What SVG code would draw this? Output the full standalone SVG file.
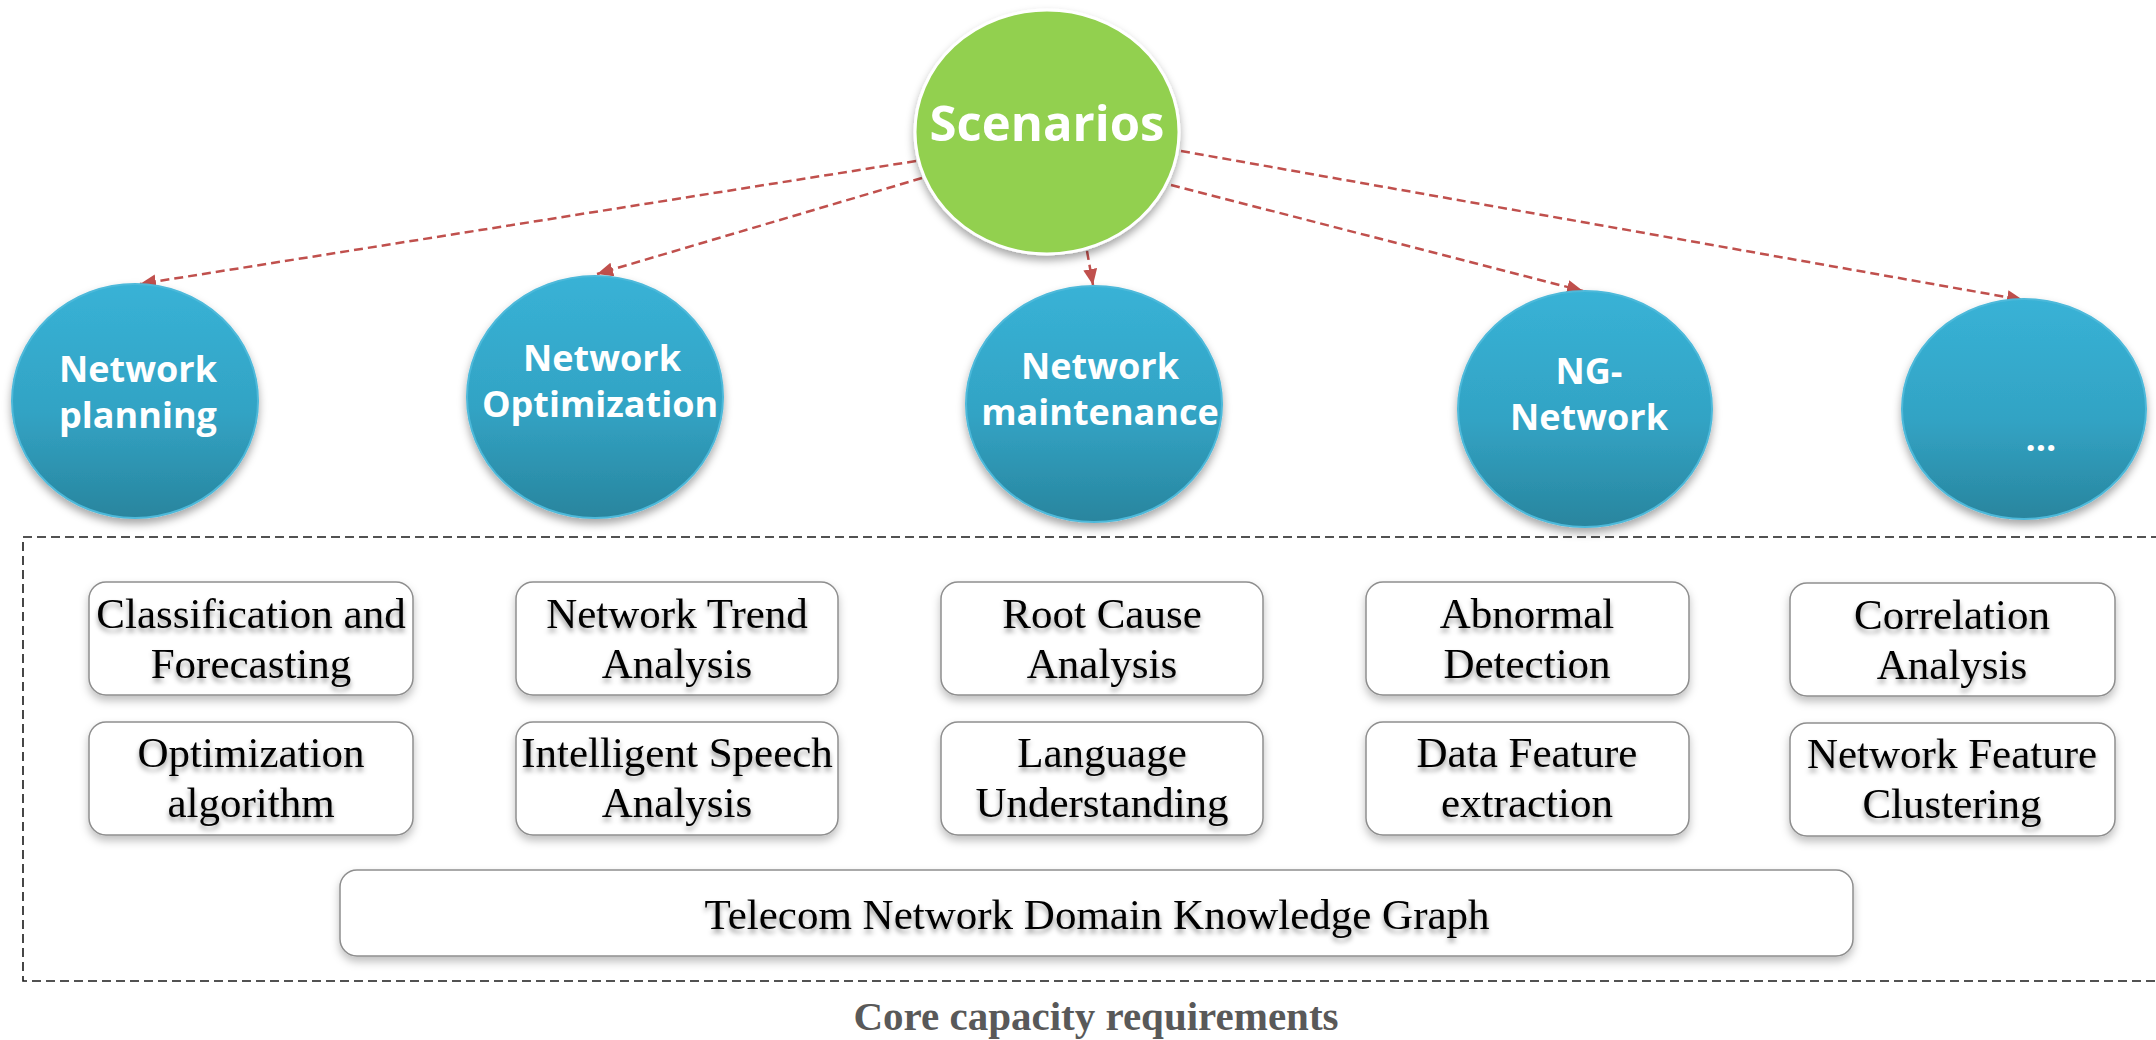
<svg xmlns="http://www.w3.org/2000/svg" width="2156" height="1040" viewBox="0 0 2156 1040">
  <defs>
    <linearGradient id="blueBall" x1="0" y1="0" x2="0" y2="1">
      <stop offset="0" stop-color="#38B2D6"/>
      <stop offset="0.55" stop-color="#32A3C4"/>
      <stop offset="1" stop-color="#29859E"/>
    </linearGradient>
    <filter id="ballShadow" x="-20%" y="-20%" width="140%" height="150%">
      <feDropShadow dx="0" dy="5" stdDeviation="4" flood-color="#000" flood-opacity="0.35"/>
    </filter>
    <filter id="boxShadow" x="-10%" y="-20%" width="120%" height="150%">
      <feDropShadow dx="0" dy="5" stdDeviation="4" flood-color="#000" flood-opacity="0.25"/>
    </filter>
    <filter id="textShadow" x="-10%" y="-30%" width="120%" height="170%">
      <feDropShadow dx="0" dy="4" stdDeviation="2.5" flood-color="#000" flood-opacity="0.4"/>
    </filter>
    <marker id="arrow" markerUnits="userSpaceOnUse" markerWidth="18" markerHeight="16" refX="16" refY="7" orient="auto">
      <path d="M0,0 L16,7 L0,14 Z" fill="#C0504D"/>
    </marker>
    <style>
      .ball { fill: url(#blueBall); stroke: #4DB9DA; stroke-width: 2; filter: url(#ballShadow); }
      .ballText { font-family: "Open Sans", "Noto Sans", sans-serif; font-weight: 700; font-size: 36px; fill: #FFFFFF; text-anchor: middle; }
      .box { fill: #FFFFFF; stroke: #8E8E8E; stroke-width: 1.5; filter: url(#boxShadow); }
      .boxText { font-family: "Liberation Serif", "Times New Roman", serif; font-size: 43px; fill: #000000; text-anchor: middle; filter: url(#textShadow); }
      .link { fill: none; stroke: #C0504D; stroke-width: 2.5; stroke-dasharray: 9 5; marker-end: url(#arrow); }
    </style>
  </defs>

  <rect x="0" y="0" width="2156" height="1040" fill="#FFFFFF"/>

  <!-- dashed frame around the capability area (open on the right) -->
  <path d="M2160,537 H23 V981 H2160" fill="none" stroke="#1A1A1A" stroke-width="1.6" stroke-dasharray="9 5"/>

  <!-- connectors from Scenarios to each scenario -->
  <g id="connectors">
    <line class="link" x1="916" y1="161" x2="140" y2="284"/>
    <line class="link" x1="922" y1="178" x2="597" y2="274"/>
    <line class="link" x1="1087" y1="251" x2="1093" y2="285"/>
    <line class="link" x1="1171" y1="185" x2="1583" y2="291"/>
    <line class="link" x1="1181" y1="151" x2="2023" y2="300"/>
  </g>

  <g id="scenarios">
    <ellipse cx="1047" cy="132" rx="132" ry="122" fill="#92D050" stroke="#FFFFFF" stroke-width="3" filter="url(#ballShadow)"/>
    <text x="1047" y="141" font-family="'Open Sans', 'Noto Sans', sans-serif" font-weight="700" font-size="49" fill="#FFFFFF" text-anchor="middle">Scenarios</text>
  </g>

  <g id="network-planning">
    <ellipse class="ball" cx="135" cy="401" rx="123" ry="117"/>
    <text class="ballText" x="138" y="382">Network</text>
    <text class="ballText" x="138" y="428">planning</text>
  </g>

  <g id="network-optimization">
    <ellipse class="ball" cx="595" cy="397" rx="128" ry="121"/>
    <text class="ballText" x="602" y="371">Network</text>
    <text class="ballText" x="600" y="417">Optimization</text>
  </g>

  <g id="network-maintenance">
    <ellipse class="ball" cx="1094" cy="404" rx="128" ry="118"/>
    <text class="ballText" x="1100" y="379">Network</text>
    <text class="ballText" x="1100" y="425">maintenance</text>
  </g>

  <g id="ng-network">
    <ellipse class="ball" cx="1585" cy="409" rx="127" ry="118"/>
    <text class="ballText" x="1589" y="384">NG-</text>
    <text class="ballText" x="1589" y="430">Network</text>
  </g>

  <g id="more-scenarios">
    <ellipse class="ball" cx="2024" cy="409" rx="122" ry="110"/>
    <text class="ballText" x="2041" y="451">…</text>
  </g>

  <!-- capability boxes, first row -->
  <g id="classification-forecasting">
    <rect class="box" x="89" y="582" width="324" height="113" rx="17"/>
    <text class="boxText" x="251" y="628">Classification and</text>
    <text class="boxText" x="251" y="678">Forecasting</text>
  </g>
  <g id="network-trend-analysis">
    <rect class="box" x="516" y="582" width="322" height="113" rx="17"/>
    <text class="boxText" x="677" y="628">Network Trend</text>
    <text class="boxText" x="677" y="678">Analysis</text>
  </g>
  <g id="root-cause-analysis">
    <rect class="box" x="941" y="582" width="322" height="113" rx="17"/>
    <text class="boxText" x="1102" y="628">Root Cause</text>
    <text class="boxText" x="1102" y="678">Analysis</text>
  </g>
  <g id="abnormal-detection">
    <rect class="box" x="1366" y="582" width="323" height="113" rx="17"/>
    <text class="boxText" x="1527" y="628">Abnormal</text>
    <text class="boxText" x="1527" y="678">Detection</text>
  </g>
  <g id="correlation-analysis">
    <rect class="box" x="1790" y="583" width="325" height="113" rx="17"/>
    <text class="boxText" x="1952" y="629">Correlation</text>
    <text class="boxText" x="1952" y="679">Analysis</text>
  </g>

  <!-- capability boxes, second row -->
  <g id="optimization-algorithm">
    <rect class="box" x="89" y="722" width="324" height="113" rx="17"/>
    <text class="boxText" x="251" y="767">Optimization</text>
    <text class="boxText" x="251" y="817">algorithm</text>
  </g>
  <g id="intelligent-speech-analysis">
    <rect class="box" x="516" y="722" width="322" height="113" rx="17"/>
    <text class="boxText" x="677" y="767">Intelligent Speech</text>
    <text class="boxText" x="677" y="817">Analysis</text>
  </g>
  <g id="language-understanding">
    <rect class="box" x="941" y="722" width="322" height="113" rx="17"/>
    <text class="boxText" x="1102" y="767">Language</text>
    <text class="boxText" x="1102" y="817">Understanding</text>
  </g>
  <g id="data-feature-extraction">
    <rect class="box" x="1366" y="722" width="323" height="113" rx="17"/>
    <text class="boxText" x="1527" y="767">Data Feature</text>
    <text class="boxText" x="1527" y="817">extraction</text>
  </g>
  <g id="network-feature-clustering">
    <rect class="box" x="1790" y="723" width="325" height="113" rx="17"/>
    <text class="boxText" x="1952" y="768">Network Feature</text>
    <text class="boxText" x="1952" y="818">Clustering</text>
  </g>

  <g id="knowledge-graph">
    <rect class="box" x="340" y="870" width="1513" height="86" rx="17"/>
    <text class="boxText" x="1097" y="929">Telecom Network Domain Knowledge Graph</text>
  </g>

  <text x="1096" y="1030" font-family="'Liberation Serif', 'Times New Roman', serif" font-weight="700" font-size="41" fill="#595959" text-anchor="middle">Core capacity requirements</text>
</svg>
